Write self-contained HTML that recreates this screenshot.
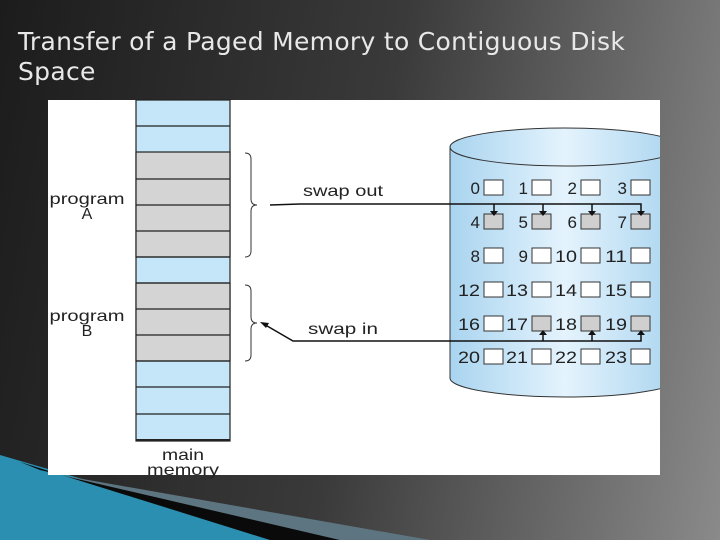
<!DOCTYPE html>
<html><head><style>
body{margin:0;width:720px;height:540px;overflow:hidden;background:linear-gradient(100deg,#1c1c1c 0%,#3a3a3a 50%,#8a8a8a 100%);position:relative;font-family:"Liberation Sans",sans-serif}
.t{position:absolute;left:18px;top:27px;color:#e8e8e8;font-size:25px;line-height:30px;font-family:"DejaVu Sans",sans-serif;letter-spacing:0.3px}
</style></head><body>
<svg width="720" height="540" style="position:absolute;left:0;top:0">
<defs>
<linearGradient id="cyl" x1="0" x2="1"><stop offset="0" stop-color="#a9d4ef"/><stop offset="0.5" stop-color="#e4f3fd"/><stop offset="1" stop-color="#a9d4ef"/></linearGradient>
</defs>
<polygon points="0,455 120,490 300,540 0,540" fill="#2a8fb0"/>
<polygon points="40,470 340,540 270,540 20,462" fill="#0a0a0a"/>
<polygon points="60,475 430,540 340,540" fill="#5d7580"/>
<rect x="48" y="100" width="612" height="375" fill="#fff"/>
<g stroke="#222" stroke-width="1.2">
<rect x="136" y="100" width="94" height="341" fill="#c5e6f8"/>
<rect x="136" y="152" width="94" height="105" fill="#d4d4d4"/>
<rect x="136" y="283" width="94" height="78" fill="#d4d4d4"/>
<path d="M136 126H230M136 179H230M136 205H230M136 231H230M136 257H230M136 283H230M136 309H230M136 335H230M136 361H230M136 387H230M136 414H230" fill="none"/>
</g>
<rect x="136" y="439" width="94" height="2" fill="#222"/>
<path d="M245 153 q6 0 6 6 v40 q0 6 6 6 q-6 0 -6 6 v40 q0 6 -6 6" fill="none" stroke="#333"/>
<path d="M245 285 q6 0 6 6 v26 q0 6 6 6 q-6 0 -6 6 v26 q0 6 -6 6" fill="none" stroke="#333"/>
<svg x="0" y="0" width="660" height="540">
<path d="M450 147 V378 A115 19 0 0 0 680 378 V147" fill="url(#cyl)" stroke="#333"/>
<ellipse cx="565" cy="147" rx="115" ry="19" fill="url(#cyl)" stroke="#333"/>
</svg>
<g font-size="17" fill="#222" text-anchor="end">
<text x="480" y="194">0</text><text x="528" y="194">1</text><text x="577" y="194">2</text><text x="627" y="194">3</text>
<text x="480" y="228">4</text><text x="528" y="228">5</text><text x="577" y="228">6</text><text x="627" y="228">7</text>
<text x="480" y="262">8</text><text x="528" y="262">9</text><text x="577" y="262" textLength="22" lengthAdjust="spacingAndGlyphs">10</text><text x="627" y="262" textLength="22" lengthAdjust="spacingAndGlyphs">11</text>
<text x="480" y="296" textLength="22" lengthAdjust="spacingAndGlyphs">12</text><text x="528" y="296" textLength="22" lengthAdjust="spacingAndGlyphs">13</text><text x="577" y="296" textLength="22" lengthAdjust="spacingAndGlyphs">14</text><text x="627" y="296" textLength="22" lengthAdjust="spacingAndGlyphs">15</text>
<text x="480" y="330" textLength="22" lengthAdjust="spacingAndGlyphs">16</text><text x="528" y="330" textLength="22" lengthAdjust="spacingAndGlyphs">17</text><text x="577" y="330" textLength="22" lengthAdjust="spacingAndGlyphs">18</text><text x="627" y="330" textLength="22" lengthAdjust="spacingAndGlyphs">19</text>
<text x="480" y="363" textLength="22" lengthAdjust="spacingAndGlyphs">20</text><text x="528" y="363" textLength="22" lengthAdjust="spacingAndGlyphs">21</text><text x="577" y="363" textLength="22" lengthAdjust="spacingAndGlyphs">22</text><text x="627" y="363" textLength="22" lengthAdjust="spacingAndGlyphs">23</text>
</g>
<g stroke="#333" stroke-width="1">
<g fill="#fff">
<rect x="484" y="180" width="19" height="15"/><rect x="532" y="180" width="19" height="15"/><rect x="581" y="180" width="19" height="15"/><rect x="631" y="180" width="19" height="15"/>
<rect x="484" y="248" width="19" height="15"/><rect x="532" y="248" width="19" height="15"/><rect x="581" y="248" width="19" height="15"/><rect x="631" y="248" width="19" height="15"/>
<rect x="484" y="282" width="19" height="15"/><rect x="532" y="282" width="19" height="15"/><rect x="581" y="282" width="19" height="15"/><rect x="631" y="282" width="19" height="15"/>
<rect x="484" y="316" width="19" height="15"/>
<rect x="484" y="349" width="19" height="15"/><rect x="532" y="349" width="19" height="15"/><rect x="581" y="349" width="19" height="15"/><rect x="631" y="349" width="19" height="15"/>
</g>
<g fill="#cfcfcf">
<rect x="484" y="214" width="19" height="15"/><rect x="532" y="214" width="19" height="15"/><rect x="581" y="214" width="19" height="15"/><rect x="631" y="214" width="19" height="15"/>
<rect x="532" y="316" width="19" height="15"/><rect x="581" y="316" width="19" height="15"/><rect x="631" y="316" width="19" height="15"/>
</g>
</g>
<g stroke="#111" stroke-width="1.5" fill="none">
<path d="M270 205 L300 204 H641 V213"/>
<path d="M494 204V213M543 204V213M592 204V213" />
<path d="M641 333 V341 H293 L262 323"/>
<path d="M543 341V333M592 341V333"/>
</g>
<g fill="#111">
<path d="M490 211h8l-4 5z"/><path d="M539 211h8l-4 5z"/><path d="M588 211h8l-4 5z"/><path d="M637 211h8l-4 5z"/>
<path d="M539 335h8l-4 -5z"/><path d="M588 335h8l-4 -5z"/><path d="M637 335h8l-4 -5z"/>
<path d="M260 322 l9 1 l-3 5z"/>
</g>
<g font-size="16" fill="#222" text-anchor="middle">
<text x="87" y="204" textLength="75" lengthAdjust="spacingAndGlyphs">program</text><text x="87" y="219">A</text>
<text x="87" y="321" textLength="75" lengthAdjust="spacingAndGlyphs">program</text><text x="87" y="336">B</text>
<text x="343" y="196" textLength="80" lengthAdjust="spacingAndGlyphs">swap out</text>
<text x="343" y="334" textLength="70" lengthAdjust="spacingAndGlyphs">swap in</text>
<text x="183" y="460" textLength="42" lengthAdjust="spacingAndGlyphs">main</text><text x="183" y="475" textLength="72" lengthAdjust="spacingAndGlyphs">memory</text>
</g>
</svg>
<div class="t">Transfer of a Paged Memory to Contiguous Disk<br>Space</div>
</body></html>
